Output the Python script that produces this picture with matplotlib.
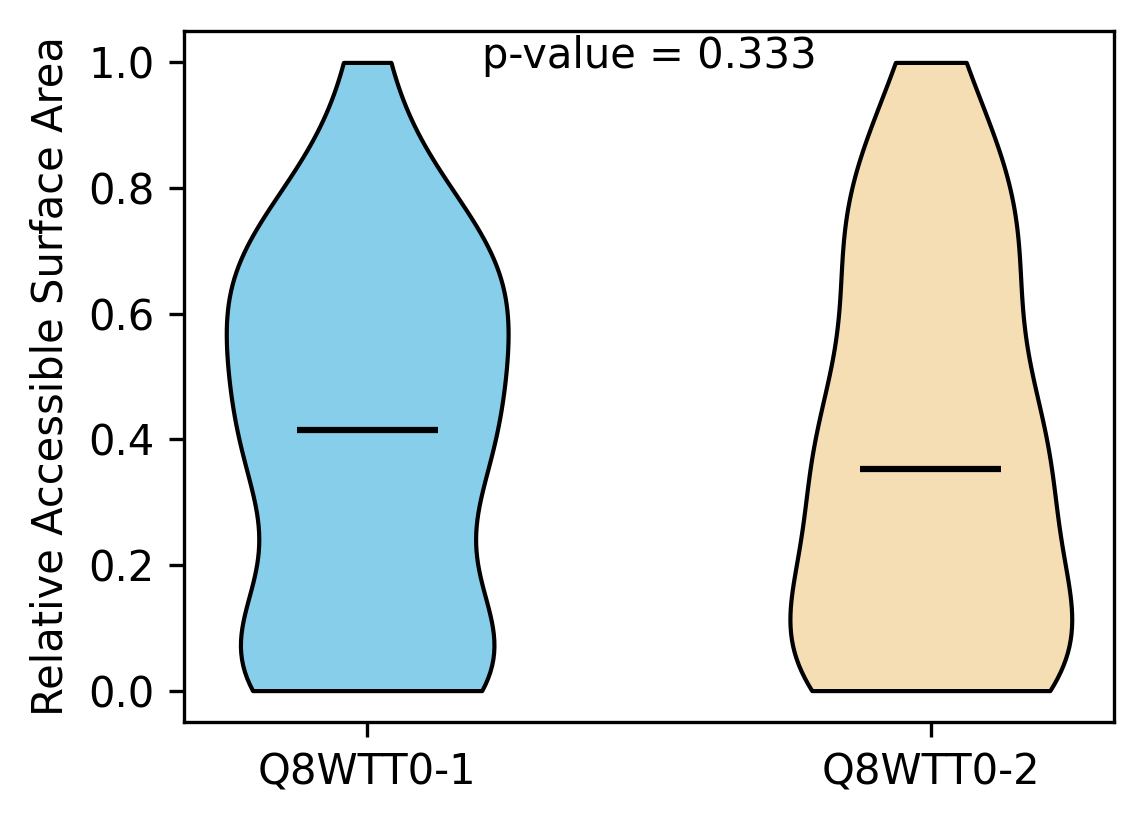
import matplotlib
matplotlib.use("Agg")
import matplotlib.pyplot as plt

# relative accessible surface area per residue, one list per isoform
LABELS = ["Q8WTT0-1", "Q8WTT0-2"]
COLORS = ["skyblue", "wheat"]
P_VALUE = 0.333

rsa_iso1 = [0.00, 0.03, 0.03, 0.04, 0.04, 0.04, 0.05, 0.05, 0.05,
            0.05, 0.05, 0.05, 0.06, 0.15, 0.30, 0.30, 0.34, 0.35,
            0.35, 0.36, 0.38, 0.415, 0.415, 0.415, 0.47, 0.49, 0.52,
            0.57, 0.57, 0.59, 0.61, 0.63, 0.65, 0.66, 0.66, 0.68,
            0.71, 0.72, 0.72, 0.74, 0.78, 0.90, 1.00]

rsa_iso2 = [0.00, 0.00, 0.02, 0.02, 0.02, 0.02, 0.04, 0.05, 0.07,
            0.07, 0.08, 0.10, 0.10, 0.11, 0.11, 0.13, 0.24, 0.28,
            0.31, 0.33, 0.35, 0.353, 0.353, 0.353, 0.37, 0.38, 0.43,
            0.44, 0.49, 0.56, 0.57, 0.59, 0.65, 0.69, 0.72, 0.73,
            0.75, 0.78, 0.80, 0.85, 0.86, 0.93, 1.00]

fig = plt.figure(figsize=(1144 / 300, 824 / 300), dpi=300)
ax = fig.add_axes([184 / 1144, 1 - 722 / 824, 930 / 1144, 691 / 824])

parts = ax.violinplot([rsa_iso1, rsa_iso2], showmedians=True, showextrema=False)
for body, c in zip(parts["bodies"], COLORS):
    body.set_facecolor(c)
    body.set_edgecolor("black")
    body.set_linewidth(1)
    body.set_alpha(1)
parts["cmedians"].set_color("black")
parts["cmedians"].set_linewidth(1.5)

ax.set_xticks([1, 2])
ax.set_xticklabels(LABELS)
ax.set_ylabel("Relative Accessible Surface Area")
ax.text(1.5, 1.01, f"p-value = {P_VALUE:.3f}", ha="center", va="center")

fig.savefig("out.png", dpi=300)
